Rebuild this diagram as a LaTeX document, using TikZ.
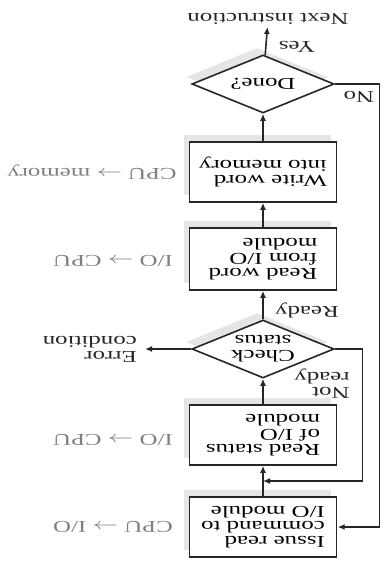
\documentclass[tikz,border=0pt]{standalone}
\usepackage{fontspec}
\setmainfont{Liberation Serif}
\usetikzlibrary{arrows.meta,shapes.geometric,shadows,calc}

\begin{document}
\begin{tikzpicture}[x=0.5pt, y=-0.5pt,
  flip/.style={rotate=180, xscale=1.5, font=\fontsize{8.3}{7.5}\selectfont, inner sep=1pt},
  box/.style={flip, draw=black!85, line width=0.8pt, fill=white, align=left,
              minimum width=49pt, minimum height=30pt, inner sep=2pt,
              drop shadow={shadow xshift=-3pt, shadow yshift=3.5pt, fill=black, opacity=0.1}},
  dec/.style={box, shape=diamond, align=center, inner sep=0pt, aspect=1.66,
              minimum width=47.5pt, minimum height=29pt},
  lab/.style={flip, align=left, text=black!85},
  io/.style={flip, text=black!50},
  ar/.style={-{Latex[length=3.5pt,width=3pt]}, line width=0.8pt, draw=black!85}]
\useasboundingbox (0,0) rectangle (383,567);
% steps of the loop
\node[box] (iss)  at (263,527) {Issue read\\command to\\I/O module};
\node[box] (rst)  at (263,435) {Read status\\of I/O\\module};
\node[dec] (chk)  at (263,349) {Check\\status};
\node[box, minimum height=31pt] (rwd) at (263,259) {Read word\\from I/O\\module};
\node[box] (wmem) at (263,172) {Write word\\into memory};
\node[dec] (done) at (263,84)  {Done?};
\node[lab] (nxt)  at (268,19)  {Next instruction};
% transfers
\node[io] (cpuio)  at (113,527) {CPU $\rightarrow$ I/O};
\node[io] (iocpua) at (113,440) {I/O $\rightarrow$ CPU};
\node[io] (iocpub) at (113,261) {I/O $\rightarrow$ CPU};
\node[io] (cpumem) at (92,172)  {CPU $\rightarrow$ memory};
% branch labels
\node[lab, anchor=west, inner xsep=2.5pt] (err) at (145,349) {Error\\condition};
\node[lab] (rdy)  at (307,310) {Ready};
\node[lab] (nrdy) at (322,384) {Not\\ready};
\node[lab] (yes)  at (297,47)  {Yes};
\node[lab] (no)   at (359,97)  {No};
\coordinate (jn) at ($(iss.south)!0.5!(rst.north)$);
\draw[ar] (iss) -- (rst);
\draw[ar] (rst) -- (chk);
\draw[ar] (chk) -- (rwd);
\draw[ar] (rwd) -- (wmem);
\draw[ar] (wmem) -- (done);
\draw[ar] (done) -- (nxt);
\draw[ar] (chk.east) -- (err.west);
\draw[ar] (chk.west) -- ++(27,0) |- (jn);
\draw[ar] (done.west) -- ++(44,0) |- (iss.west);
\end{tikzpicture}
\end{document}
